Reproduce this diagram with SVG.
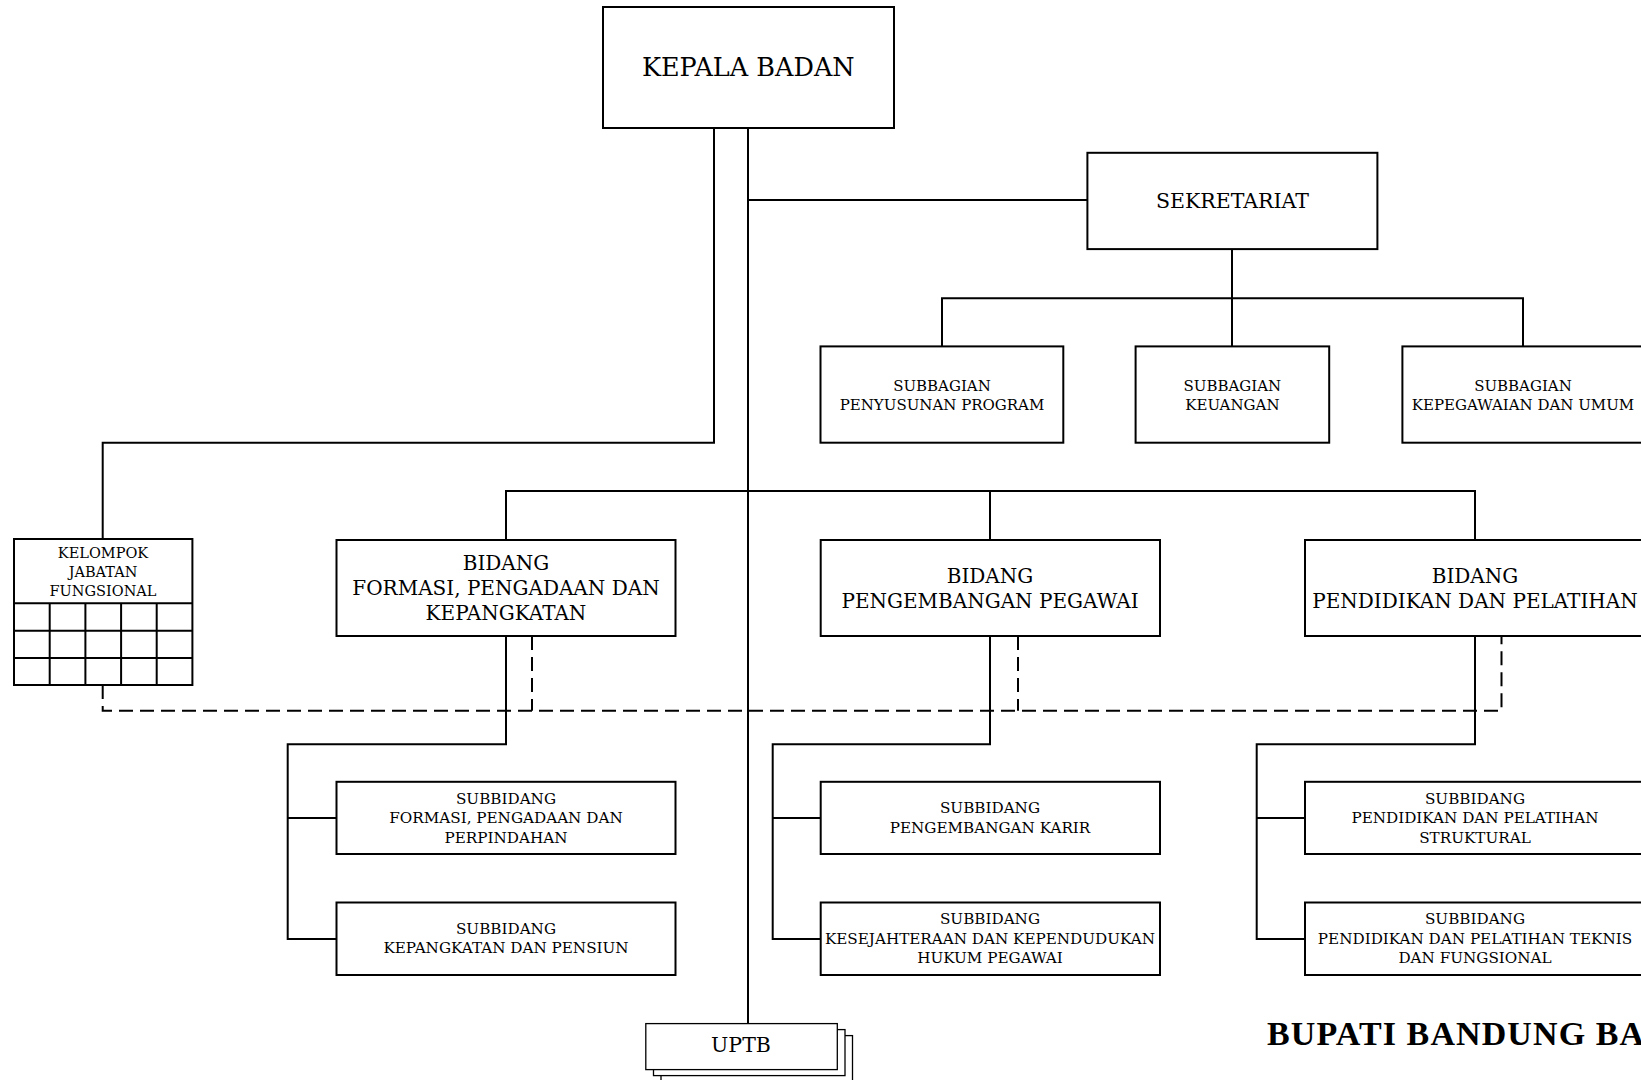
<svg xmlns="http://www.w3.org/2000/svg" width="1641" height="1080" viewBox="0 0 1641 1080">
  <style>
    .box { fill: #ffffff; stroke: #000000; stroke-width: 2; }
    .thin { fill: #ffffff; stroke: #000000; stroke-width: 1.3; }
    .ln { fill: none; stroke: #000000; stroke-width: 2; }
    .dash { fill: none; stroke: #000000; stroke-width: 2; stroke-dasharray: 14 7; }
    text { font-family: "DejaVu Serif", "Liberation Serif", serif; fill: #000000; text-anchor: middle; }
    .t25 { font-size: 25.5px; }
    .t20 { font-size: 20px; }
    .t15 { font-size: 15px; }
    .t14 { font-size: 15.2px; }
    .t13 { font-size: 14.5px; }
    .title { font-family: "Liberation Serif", "DejaVu Serif", serif; font-weight: bold; font-size: 34px; letter-spacing: 1.1px; text-anchor: start; }
  </style>
  <rect width="1641" height="1080" fill="#ffffff"/>

  <!-- connectors -->
  <g id="connectors">
    <!-- head to UPTB trunk and secretariat -->
    <path class="ln" d="M748 128 V1024"/>
    <path class="ln" d="M748 200 H1087"/>
    <!-- head to functional group -->
    <path class="ln" d="M714 128 V442.7 H102.7 V539"/>
    <!-- secretariat to subsections -->
    <path class="ln" d="M1232 249 V346.4"/>
    <path class="ln" d="M942 346.4 V298.3 H1523 V346.4"/>
    <!-- head to divisions -->
    <path class="ln" d="M506 540 V491 H1475 V540"/>
    <path class="ln" d="M990 491 V540"/>
    <!-- division 1 subsections -->
    <path class="ln" d="M506 636 V744.3 H287.7 V939 H336"/>
    <path class="ln" d="M287.7 818 H336"/>
    <!-- division 2 subsections -->
    <path class="ln" d="M990 636 V744.3 H772.7 V939 H820.7"/>
    <path class="ln" d="M772.7 818 H820.7"/>
    <!-- division 3 subsections -->
    <path class="ln" d="M1475 636 V744.3 H1256.7 V939 H1305"/>
    <path class="ln" d="M1256.7 818 H1305"/>
    <!-- coordination lines -->
    <path class="dash" d="M102.7 685 V710.7 H1501.5 V636"/>
    <path class="dash" d="M532 636 V710.7"/>
    <path class="dash" d="M1018 636 V710.7"/>
  </g>

  <g id="kepala-badan">
    <rect class="box" x="603" y="7" width="291" height="121"/>
    <text class="t25" x="748.3" y="76">KEPALA BADAN</text>
  </g>

  <g id="sekretariat">
    <rect class="box" x="1087.4" y="152.8" width="290" height="96.3"/>
    <text class="t20" x="1232.4" y="208" style="font-size:20.5px">SEKRETARIAT</text>
  </g>

  <g id="subbagian-program">
    <rect class="box" x="820.5" y="346.4" width="242.8" height="96.3"/>
    <text class="t15" x="942" y="390.5">SUBBAGIAN</text>
    <text class="t15" x="942" y="409.5">PENYUSUNAN PROGRAM</text>
  </g>

  <g id="subbagian-keuangan">
    <rect class="box" x="1135.6" y="346.4" width="193.6" height="96.3"/>
    <text class="t15" x="1232.4" y="390.5">SUBBAGIAN</text>
    <text class="t15" x="1232.4" y="409.5">KEUANGAN</text>
  </g>

  <g id="subbagian-kepegawaian">
    <rect class="box" x="1402.4" y="346.4" width="242" height="96.3"/>
    <text class="t15" x="1523" y="390.5">SUBBAGIAN</text>
    <text class="t15" x="1523" y="409.5">KEPEGAWAIAN DAN UMUM</text>
  </g>

  <g id="kelompok-jabatan-fungsional">
    <rect class="box" x="14" y="539" width="178.4" height="146"/>
    <path class="ln" d="M14 603.3 H192.4 M14 630.7 H192.4 M14 658 H192.4 M49.7 603.3 V685 M85.4 603.3 V685 M121.1 603.3 V685 M156.7 603.3 V685"/>
    <text class="t13" x="103" y="557.5">KELOMPOK</text>
    <text class="t13" x="103" y="577">JABATAN</text>
    <text class="t13" x="103" y="596">FUNGSIONAL</text>
  </g>

  <g id="bidang-formasi">
    <rect class="box" x="336.5" y="540" width="339" height="96"/>
    <text class="t20" x="506" y="570">BIDANG</text>
    <text class="t20" x="506" y="595">FORMASI, PENGADAAN DAN</text>
    <text class="t20" x="506" y="620">KEPANGKATAN</text>
  </g>

  <g id="bidang-pengembangan">
    <rect class="box" x="820.7" y="540" width="339.3" height="96"/>
    <text class="t20" x="990" y="582.5">BIDANG</text>
    <text class="t20" x="990" y="607.5">PENGEMBANGAN PEGAWAI</text>
  </g>

  <g id="bidang-diklat">
    <rect class="box" x="1305" y="540" width="340" height="96"/>
    <text class="t20" x="1475" y="582.5">BIDANG</text>
    <text class="t20" x="1475" y="607.5">PENDIDIKAN DAN PELATIHAN</text>
  </g>

  <g id="subbidang-formasi">
    <rect class="box" x="336.5" y="781.8" width="339" height="72.2"/>
    <text class="t14" x="506" y="803.5">SUBBIDANG</text>
    <text class="t14" x="506" y="823">FORMASI, PENGADAAN DAN</text>
    <text class="t14" x="506" y="842.5">PERPINDAHAN</text>
  </g>

  <g id="subbidang-kepangkatan">
    <rect class="box" x="336.5" y="902.5" width="339" height="72.5"/>
    <text class="t14" x="506" y="933.7">SUBBIDANG</text>
    <text class="t14" x="506" y="953.2">KEPANGKATAN DAN PENSIUN</text>
  </g>

  <g id="subbidang-karir">
    <rect class="box" x="820.7" y="781.8" width="339.3" height="72.2"/>
    <text class="t14" x="990" y="813.2">SUBBIDANG</text>
    <text class="t14" x="990" y="832.7">PENGEMBANGAN KARIR</text>
  </g>

  <g id="subbidang-kesejahteraan">
    <rect class="box" x="820.7" y="902.5" width="339.3" height="72.5"/>
    <text class="t14" x="990" y="924">SUBBIDANG</text>
    <text class="t14" x="990" y="943.5">KESEJAHTERAAN DAN KEPENDUDUKAN</text>
    <text class="t14" x="990" y="963">HUKUM PEGAWAI</text>
  </g>

  <g id="subbidang-diklat-struktural">
    <rect class="box" x="1305" y="781.8" width="340" height="72.2"/>
    <text class="t14" x="1475" y="803.5">SUBBIDANG</text>
    <text class="t14" x="1475" y="823">PENDIDIKAN DAN PELATIHAN</text>
    <text class="t14" x="1475" y="842.5">STRUKTURAL</text>
  </g>

  <g id="subbidang-diklat-teknis">
    <rect class="box" x="1305" y="902.5" width="340" height="72.5"/>
    <text class="t14" x="1475" y="924">SUBBIDANG</text>
    <text class="t14" x="1475" y="943.5">PENDIDIKAN DAN PELATIHAN TEKNIS</text>
    <text class="t14" x="1475" y="963">DAN FUNGSIONAL</text>
  </g>

  <g id="uptb">
    <rect class="thin" x="661" y="1035.6" width="191.5" height="60"/>
    <rect class="thin" x="653.5" y="1029.6" width="191.5" height="46"/>
    <rect class="thin" x="645.8" y="1023.6" width="191.5" height="46"/>
    <text class="t20" x="741" y="1052" style="font-size:20.5px">UPTB</text>
  </g>

  <text class="title" x="1267" y="1045">BUPATI BANDUNG BARAT</text>
</svg>
